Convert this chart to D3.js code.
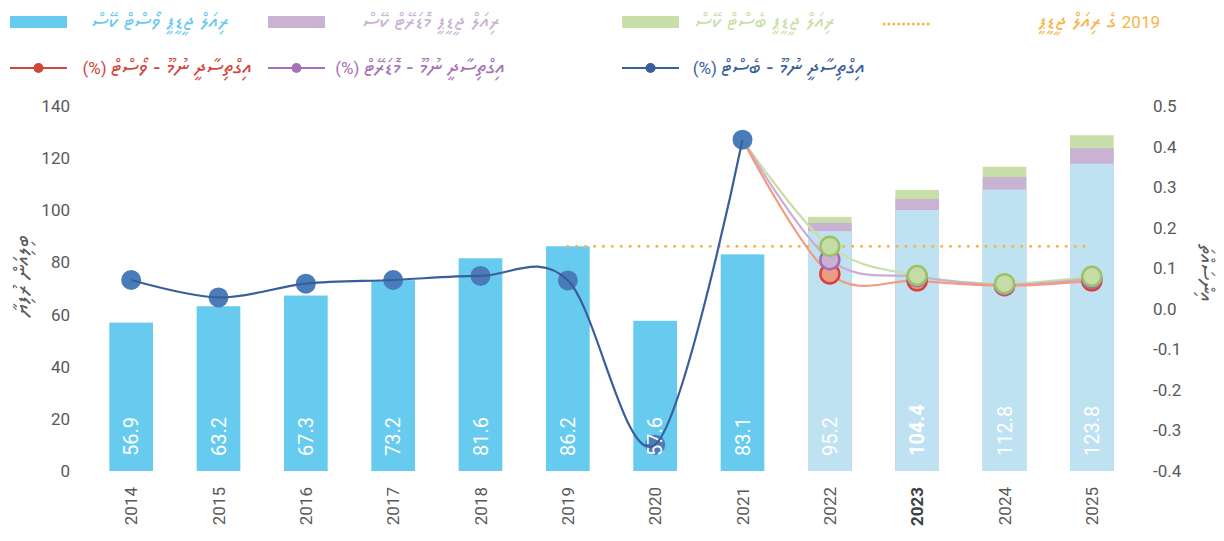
<html>
  <head>
    <meta charset="utf-8">
    <script src="https://d3js.org/d3.v7.min.js"></script>
    <style>
      body { margin: 0; background: white; }
      text { font-family: Roboto, "Noto Sans", sans-serif; }
      .thaana { font-family: "Noto Sans Thaana", "MV Faseyha", "Noto Sans", "DejaVu Sans", sans-serif; }
      .latin { font-family: Roboto, sans-serif; font-size: 17px; }
      .tick-label { fill: #595959; font-size: 17px; }
    </style>
  </head>
  <body>
    <svg id="chart" width="1224" height="541"></svg>
    <script>
      // years on the x axis
      var years = ['2014', '2015', '2016', '2017', '2018', '2019', '2020', '2021', '2022', '2023', '2024', '2025'];
      var actualYears = years.slice(0, 8);
      var forecastYears = years.slice(8);

      // real GDP, billion MVR
      var gdpActual = [56.9, 63.2, 67.3, 73.2, 81.6, 86.2, 57.6, 83.1];
      var gdpWorst = [92.0, 100.1, 107.9, 117.9];
      var gdpModerate = [95.2, 104.4, 112.8, 123.8];
      var gdpBest = [97.5, 107.8, 116.7, 128.8];
      var gdp2019 = 86.2;

      // growth rates (right axis)
      var growthActual = [0.071, 0.028, 0.062, 0.071, 0.081, 0.070, -0.335, 0.417];
      var growthWorst = [0.086, 0.069, 0.057, 0.069];
      var growthModerate = [0.121, 0.079, 0.059, 0.075];
      var growthBest = [0.154, 0.082, 0.062, 0.080];

      var leftTicks = [0, 20, 40, 60, 80, 100, 120, 140];
      var rightTicks = [-0.4, -0.3, -0.2, -0.1, 0.0, 0.1, 0.2, 0.3, 0.4, 0.5];

      var svg = d3.select('#chart');

      var x = d3.scaleBand().domain(years).range([87.5, 1135.5]).paddingInner(0.5).paddingOuter(0.25);
      var yL = d3.scaleLinear().domain([0, 140]).range([471, 106]);
      var yR = d3.scaleLinear().domain([-0.4, 0.5]).range([471, 106]);
      var cx = function(d) { return x(d) + x.bandwidth() / 2; };

      // axes (no lines, just labels)
      svg.append('g').attr('transform', 'translate(70,0)')
        .call(d3.axisLeft(yL).tickValues(leftTicks).tickSize(0).tickPadding(0))
        .call(function(g) { g.select('.domain').remove(); })
        .selectAll('text').attr('class', 'tick-label').style('font-family', 'Roboto');

      svg.append('g').attr('transform', 'translate(1153,0)')
        .call(d3.axisRight(yR).tickValues(rightTicks).tickSize(0).tickPadding(0).tickFormat(function(d) { return d.toFixed(1); }))
        .call(function(g) { g.select('.domain').remove(); })
        .selectAll('text').attr('class', 'tick-label').style('font-family', 'Roboto');

      // x labels, rotated
      svg.append('g').selectAll('text').data(years).enter().append('text')
        .attr('transform', function(d) { return 'translate(' + (cx(d) + 6) + ',487) rotate(-90)'; })
        .attr('text-anchor', 'end')
        .attr('class', 'tick-label')
        .style('font-weight', function(d) { return d === '2023' ? 'bold' : 'normal'; })
        .style('fill', function(d) { return d === '2023' ? '#404040' : '#595959'; })
        .text(function(d) { return d; });

      // axis titles
      svg.append('text').attr('class', 'thaana')
        .attr('transform', 'translate(29,276) rotate(-90)')
        .attr('text-anchor', 'middle').attr('fill', '#595959').style('font-size', '22px')
        .text('ބިލިއަން ރުފިޔާ');
      svg.append('text').attr('class', 'thaana')
        .attr('transform', 'translate(1200,273) rotate(90)')
        .attr('text-anchor', 'middle').attr('fill', '#595959').style('font-size', '21px')
        .text('އިންސައްތަ');

      // forecast bars: best behind, then moderate, then worst
      var barLayers = [
        { vals: gdpBest, color: '#C9DFA9' },
        { vals: gdpModerate, color: '#CAB2D3' },
        { vals: gdpWorst, color: '#BFE2F2' }
      ];
      barLayers.forEach(function(layer) {
        svg.append('g').selectAll('rect').data(forecastYears).enter().append('rect')
          .attr('x', function(d) { return x(d); })
          .attr('width', x.bandwidth())
          .attr('y', function(d, i) { return yL(layer.vals[i]); })
          .attr('height', function(d, i) { return yL(0) - yL(layer.vals[i]); })
          .attr('fill', layer.color);
      });

      svg.append('g').selectAll('rect').data(actualYears).enter().append('rect')
        .attr('x', function(d) { return x(d); })
        .attr('width', x.bandwidth())
        .attr('y', function(d, i) { return yL(gdpActual[i]); })
        .attr('height', function(d, i) { return yL(0) - yL(gdpActual[i]); })
        .attr('fill', '#66CBEF');

      // 2019 level, dotted
      svg.append('line')
        .attr('x1', cx('2019')).attr('x2', cx('2025'))
        .attr('y1', yL(gdp2019)).attr('y2', yL(gdp2019))
        .attr('stroke', '#F5B547').attr('stroke-width', 3.2)
        .attr('stroke-linecap', 'round').attr('stroke-dasharray', '0 8.9');

      var line = d3.line().curve(d3.curveCardinal.tension(0))
        .x(function(d) { return cx(d[0]); })
        .y(function(d) { return yR(d[1]); });

      var scen = [
        { vals: growthBest, line: '#C8DFA8', fill: '#C6DCA6', stroke: '#9CC266' },
        { vals: growthModerate, line: '#C9AED4', fill: '#C9B0D4', stroke: '#A56CB3' },
        { vals: growthWorst, line: '#F29A82', fill: '#EA9C84', stroke: '#D8403A' }
      ];
      scen.forEach(function(s) {
        var pts = [['2021', growthActual[7]]].concat(forecastYears.map(function(y, i) { return [y, s.vals[i]]; }));
        svg.append('path').attr('d', line(pts)).attr('fill', 'none')
          .attr('stroke', s.line).attr('stroke-width', 2.2);
      });
      scen.slice().reverse().forEach(function(s) {
        svg.append('g').selectAll('circle').data(forecastYears).enter().append('circle')
          .attr('cx', cx).attr('cy', function(d, i) { return yR(s.vals[i]); })
          .attr('r', 9.5).attr('fill', s.fill).attr('stroke', s.stroke).attr('stroke-width', 2.5);
      });

      // actual growth
      svg.append('g').selectAll('circle').data(actualYears).enter().append('circle')
        .attr('cx', cx).attr('cy', function(d, i) { return yR(growthActual[i]); })
        .attr('r', 10).attr('fill', '#4A7CBA');

      // value labels inside bars
      var labelVals = gdpActual.concat(gdpModerate);
      svg.append('g').selectAll('text').data(years).enter().append('text')
        .attr('transform', function(d) { return 'translate(' + (cx(d) + 7) + ',456) rotate(-90)'; })
        .attr('fill', 'white')
        .style('font-size', '20px')
        .style('font-weight', function(d) { return d === '2023' ? 'bold' : 'normal'; })
        .text(function(d, i) { return labelVals[i].toFixed(1); });

      svg.append('path')
        .attr('d', line(actualYears.map(function(y, i) { return [y, growthActual[i]]; })))
        .attr('fill', 'none').attr('stroke', '#3A5E9B').attr('stroke-width', 2.2);

      // legend
      function legendText(tx, ty, color, parts) {
        var t = svg.append('text').attr('x', tx).attr('y', ty)
          .attr('direction', 'rtl').attr('text-anchor', 'start').attr('fill', color);
        parts.forEach(function(p) {
          t.append('tspan').attr('class', p[1] ? 'latin' : 'thaana')
            .style('font-size', p[1] ? '17px' : '22px').text(p[0]);
        });
      }

      var legendBars = [
        { x: 10, tx: 229, color: '#66CBEF', text: 'ރިއަލް ޖީޑީޕީ ވޯސްޓް ކޭސް' },
        { x: 268, tx: 500, color: '#CAB2D3', text: 'ރިއަލް ޖީޑީޕީ މޮޑަރޭޓް ކޭސް' },
        { x: 622, tx: 835, color: '#C9DFA9', text: 'ރިއަލް ޖީޑީޕީ ބެސްޓް ކޭސް' }
      ];
      legendBars.forEach(function(l) {
        svg.append('rect').attr('x', l.x).attr('y', 16).attr('width', 57).attr('height', 12).attr('fill', l.color);
        legendText(l.tx, 28, l.color, [[l.text, false]]);
      });
      svg.append('line').attr('x1', 884).attr('x2', 930).attr('y1', 24).attr('y2', 24)
        .attr('stroke', '#F5B547').attr('stroke-width', 3).attr('stroke-linecap', 'round').attr('stroke-dasharray', '0 4.9');
      legendText(1160, 28, '#F5B547', [['2019', true], [' ގެ ރިއަލް ޖީޑީޕީ', false]]);

      var legendLines = [
        { x: 10, tx: 252, color: '#D0463B', text: 'އިގްތިސާދީ ނުމޫ - ވޯސްޓް' },
        { x: 268, tx: 505, color: '#A672B4', text: 'އިގްތިސާދީ ނުމޫ - މޮޑަރޭޓް' },
        { x: 622, tx: 865, color: '#3A5E9B', text: 'އިގްތިސާދީ ނުމޫ - ބެސްޓް' }
      ];
      legendLines.forEach(function(l) {
        svg.append('line').attr('x1', l.x).attr('x2', l.x + 57).attr('y1', 68).attr('y2', 68)
          .attr('stroke', l.color).attr('stroke-width', 2);
        svg.append('circle').attr('cx', l.x + 28.5).attr('cy', 68).attr('r', 5).attr('fill', l.color);
        legendText(l.tx, 74, l.color, [[l.text, false], [' (%)', true]]);
      });
    </script>
  </body>
</html>
